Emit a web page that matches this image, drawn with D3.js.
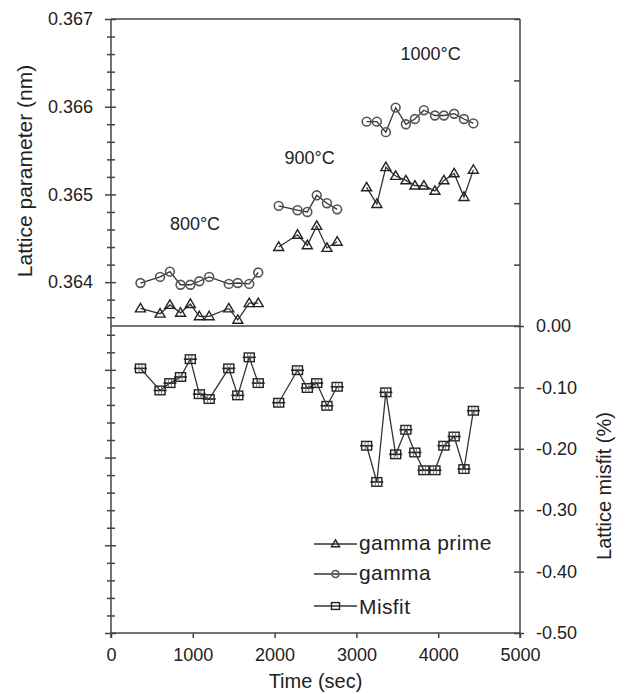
<!DOCTYPE html>
<html>
<head>
<meta charset="utf-8">
<script src="https://cdn.jsdelivr.net/npm/d3@7"></script>
<style>
  html, body { margin: 0; padding: 0; background: #fff; }
  svg { display: block; font-family: "Liberation Sans", Arial, sans-serif; }
</style>
</head>
<body>
<svg id="chart" width="625" height="694"></svg>
<script>
// Annealing stages: time (s) of each measurement
const times800  = [360, 600, 720, 850, 970, 1080, 1200, 1440, 1550, 1690, 1800];
const times900  = [2050, 2280, 2400, 2515, 2640, 2765];
const times1000 = [3125, 3250, 3360, 3480, 3605, 3715, 3825, 3960, 4070, 4195, 4315, 4430];

// gamma prime lattice parameter (nm)
const gammaPrime800  = [0.36370, 0.36364, 0.36374, 0.36365, 0.36375, 0.36361, 0.36361, 0.36370, 0.36357, 0.36376, 0.36376];
const gammaPrime900  = [0.36440, 0.36454, 0.36442, 0.36464, 0.36439, 0.36446];
const gammaPrime1000 = [0.36508, 0.36489, 0.36531, 0.36521, 0.36516, 0.36510, 0.36510, 0.36504, 0.36516, 0.36524, 0.36497, 0.36528];

// gamma lattice parameter (nm)
const gamma800  = [0.36399, 0.36406, 0.36412, 0.36397, 0.36397, 0.36401, 0.36406, 0.36398, 0.36399, 0.36398, 0.36411];
const gamma900  = [0.36487, 0.36482, 0.36480, 0.36499, 0.36490, 0.36483];
const gamma1000 = [0.36583, 0.36583, 0.36571, 0.36599, 0.36580, 0.36586, 0.36596, 0.36590, 0.36590, 0.36592, 0.36586, 0.36581];

// lattice misfit (%)
const misfit800  = [-0.069, -0.105, -0.093, -0.083, -0.054, -0.111, -0.119, -0.069, -0.113, -0.051, -0.093];
const misfit900  = [-0.125, -0.072, -0.101, -0.093, -0.130, -0.099];
const misfit1000 = [-0.195, -0.254, -0.108, -0.209, -0.169, -0.206, -0.235, -0.235, -0.195, -0.180, -0.233, -0.138];

// Temperature annotations: label, time, lattice parameter
const stageLabels = ["800°C", "900°C", "1000°C"];
const stageLabelTime = [720, 2120, 3540];
const stageLabelValue = [0.36459, 0.36535, 0.36653];

// Axis ticks
const leftLabelTicks = [0.364, 0.365, 0.366, 0.367];
const xTicks = [0, 1000, 2000, 3000, 4000, 5000];

const legendNames = ["gamma prime", "gamma", "Misfit"];

const svg = d3.select("#chart");
const ink = "#333";

const x = d3.scaleLinear().domain([0, 5000]).range([111, 520]);
const yL = d3.scaleLinear().domain([0.360, 0.367]).range([633, 19]);
const yR = d3.scaleLinear().domain([-0.5, 0.5]).range([633, 19]);

// minor tick values every 0.0002 nm and every 0.1 %
const leftTicks = d3.range(0, 36).map(i => +(0.360 + i * 0.0002).toFixed(4));
const rightTicks = d3.range(-5, 6).map(i => +(i * 0.1).toFixed(2));

// frame lines
svg.append("line").attr("x1", x(0)).attr("x2", x(5000)).attr("y1", yL(0.367)).attr("y2", yL(0.367))
  .attr("stroke", "#444").attr("stroke-width", 1.5);
svg.append("line").attr("x1", x(0)).attr("x2", x(5000)).attr("y1", yR(0)).attr("y2", yR(0))
  .attr("stroke", "#444").attr("stroke-width", 1.5);

// left axis
const isMajor = d => Math.abs(d * 1000 - Math.round(d * 1000)) < 1e-6;
const gL = svg.append("g").attr("transform", `translate(${x(0)},0)`)
  .call(d3.axisLeft(yL).tickValues(leftTicks).tickSize(5).tickPadding(13)
    .tickFormat(d => leftLabelTicks.some(v => Math.abs(v - d) < 1e-7) ? d3.format(".3f")(d) : ""));
gL.select(".domain").attr("d", `M0,${yL(0.367)}V${yL(0.360) + 5}`);
gL.selectAll(".tick line").attr("x1", d => isMajor(d) ? 5 : 4).attr("x2", d => isMajor(d) ? -6 : -4);

// right axis
const gR = svg.append("g").attr("transform", `translate(${x(5000)},0)`)
  .call(d3.axisRight(yR).tickValues(rightTicks).tickSize(4).tickPadding(12)
    .tickFormat(d => d <= 0.0001 ? d3.format(".2f")(d).replace("−", "-") : ""));
gR.select(".domain").attr("d", `M0,${yR(0.5)}V${yR(-0.5) + 5}`);
gR.selectAll(".tick line").attr("x1", -6).attr("x2", d => d <= 0.0001 ? 4 : 0);

// bottom axis
const gB = svg.append("g").attr("transform", `translate(0,${yR(-0.5)})`)
  .call(d3.axisBottom(x).tickValues(xTicks).tickSize(5).tickPadding(10).tickFormat(d3.format("d")));
gB.select(".domain").attr("d", `M${x(0)},0H${x(5000)}`);

[gL, gR, gB].forEach(g => {
  g.select(".domain").attr("stroke", "#444").attr("stroke-width", 1.5).attr("fill", "none");
  g.selectAll(".tick line").attr("stroke", "#444").attr("stroke-width", 1.5);
  g.selectAll(".tick text").attr("font-size", 18).attr("fill", "#222")
    .attr("font-family", "'Liberation Sans', Arial, sans-serif");
});

// axis titles
svg.append("text").attr("transform", "translate(32,171) rotate(-90)")
  .attr("text-anchor", "middle").attr("font-size", 21).attr("fill", "#222")
  .text("Lattice parameter (nm)");
svg.append("text").attr("transform", "translate(611,486) rotate(-90)")
  .attr("text-anchor", "middle").attr("font-size", 20).attr("fill", "#222")
  .text("Lattice misfit (%)");
svg.append("text").attr("x", x(2500)).attr("y", 688)
  .attr("text-anchor", "middle").attr("font-size", 20).attr("fill", "#222")
  .text("Time (sec)");

// stage labels
stageLabels.forEach((t, i) => {
  svg.append("text").attr("x", x(stageLabelTime[i])).attr("y", yL(stageLabelValue[i]))
    .attr("font-size", 18).attr("fill", "#222").text(t);
});

// marker shapes
function drawMarker(g, kind, cx, cy, s) {
  if (kind === "tri") {
    const w = 5 * s, h = 8.5 * s;
    g.append("path").attr("d", `M${cx},${cy - h * 0.6}L${cx + w},${cy + h * 0.4}L${cx - w},${cy + h * 0.4}Z`)
      .attr("fill", "none").attr("stroke", "#222").attr("stroke-width", 1.4);
  } else if (kind === "circ") {
    g.append("circle").attr("cx", cx).attr("cy", cy).attr("r", 4.4 * s)
      .attr("fill", "none").attr("stroke", "#555").attr("stroke-width", 1.6);
  } else {
    const w = 5 * s, h = 4.3 * s;
    g.append("rect").attr("x", cx - w).attr("y", cy - h).attr("width", 2 * w).attr("height", 2 * h)
      .attr("fill", "none").attr("stroke", "#222").attr("stroke-width", 1.4);
    if (s >= 1) {
      g.append("line").attr("x1", cx - w - 1.5).attr("x2", cx + w + 1.5).attr("y1", cy).attr("y2", cy)
        .attr("stroke", "#222").attr("stroke-width", 1.6);
      g.append("line").attr("x1", cx - 1.5).attr("x2", cx - 1.5).attr("y1", cy - h).attr("y2", cy + h)
        .attr("stroke", "#555").attr("stroke-width", 0.8);
      g.append("line").attr("x1", cx + 1.5).attr("x2", cx + 1.5).attr("y1", cy - h).attr("y2", cy + h)
        .attr("stroke", "#555").attr("stroke-width", 0.8);
    }
  }
}

const series = [
  { kind: "tri", scale: yL, stages: [[times800, gammaPrime800], [times900, gammaPrime900], [times1000, gammaPrime1000]] },
  { kind: "circ", scale: yL, stages: [[times800, gamma800], [times900, gamma900], [times1000, gamma1000]] },
  { kind: "sq", scale: yR, stages: [[times800, misfit800], [times900, misfit900], [times1000, misfit1000]] }
];

const plot = svg.append("g");
series.forEach(sr => {
  sr.stages.forEach(([ts, vs]) => {
    const pts = ts.map((t, i) => [x(t), sr.scale(vs[i])]);
    plot.append("path").attr("d", d3.line()(pts))
      .attr("fill", "none").attr("stroke", ink).attr("stroke-width", 1.3);
    pts.forEach(p => drawMarker(plot, sr.kind, p[0], p[1], 1));
  });
});

// legend
const legendKinds = ["tri", "circ", "sq"];
const legendY = [544, 574, 606];
const lg = svg.append("g");
legendNames.forEach((name, i) => {
  lg.append("line").attr("x1", 314).attr("x2", 357).attr("y1", legendY[i]).attr("y2", legendY[i])
    .attr("stroke", ink).attr("stroke-width", 1.3);
  drawMarker(lg, legendKinds[i], 335.5, legendY[i], 0.8);
  lg.append("text").attr("x", 359).attr("y", legendY[i] + (i === 2 ? 7.5 : 5.5))
    .attr("font-size", 21).attr("letter-spacing", 0.4).attr("fill", "#222").text(name);
});
</script>
</body>
</html>
